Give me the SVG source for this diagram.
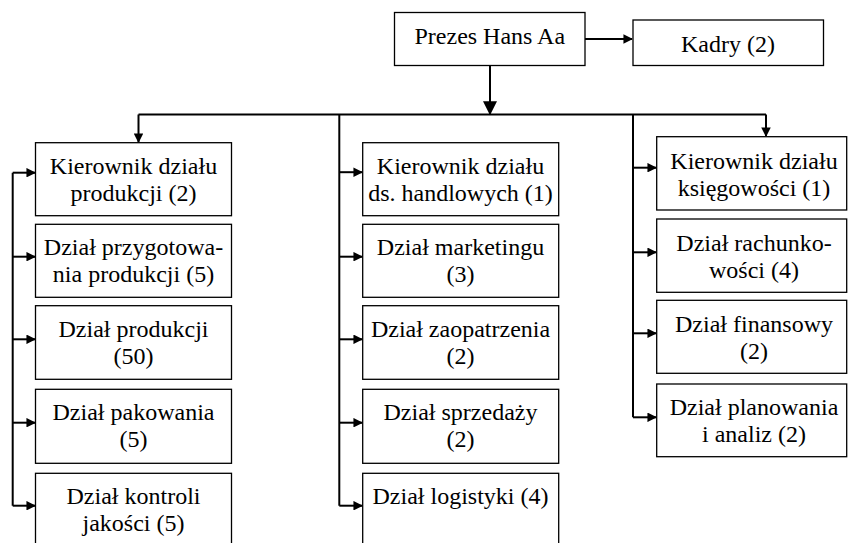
<svg xmlns="http://www.w3.org/2000/svg" width="848" height="543" viewBox="0 0 848 543">
<style>
.box{fill:#fff;stroke:#000;stroke-width:1.3}
.c{fill:none;stroke:#000;stroke-width:2}
</style>
<defs>
<marker id="a" markerUnits="userSpaceOnUse" viewBox="0 0 10 10" refX="9" refY="5" markerWidth="10" markerHeight="9.5" orient="auto">
<path d="M0,0 L10,5 L0,10 z" fill="#000"/>
</marker>
<marker id="big" markerUnits="userSpaceOnUse" viewBox="0 0 10 10" refX="9.5" refY="5" markerWidth="17" markerHeight="14" orient="auto">
<path d="M0,0 L10,5 L0,10 z" fill="#000"/>
</marker>
</defs>
<rect width="848" height="543" fill="#fff"/>
<g id="connectors">
<path class="c" d="M585 39 H632" marker-end="url(#a)"/>
<path class="c" d="M490 65.5 V114.5" marker-end="url(#big)"/>
<path class="c" d="M138.5 114.5 H766"/>
<path class="c" d="M138.5 114.5 V142" marker-end="url(#a)"/>
<path class="c" d="M766 114.5 V136" marker-end="url(#a)"/>
<path class="c" d="M12.7 172.7 V505.7"/>
<path class="c" d="M12.7 172.7 H35" marker-end="url(#a)"/>
<path class="c" d="M12.7 256.7 H35" marker-end="url(#a)"/>
<path class="c" d="M12.7 339.3 H35" marker-end="url(#a)"/>
<path class="c" d="M12.7 422.7 H35" marker-end="url(#a)"/>
<path class="c" d="M12.7 505.7 H35" marker-end="url(#a)"/>
<path class="c" d="M339.3 114.5 V505.7"/>
<path class="c" d="M339.3 172.2 H362" marker-end="url(#a)"/>
<path class="c" d="M339.3 256.7 H362" marker-end="url(#a)"/>
<path class="c" d="M339.3 339.3 H362" marker-end="url(#a)"/>
<path class="c" d="M339.3 422.7 H362" marker-end="url(#a)"/>
<path class="c" d="M339.3 505.7 H362" marker-end="url(#a)"/>
<path class="c" d="M633 114.5 V417.3"/>
<path class="c" d="M633 167.7 H656" marker-end="url(#a)"/>
<path class="c" d="M633 252.3 H656" marker-end="url(#a)"/>
<path class="c" d="M633 333.3 H656" marker-end="url(#a)"/>
<path class="c" d="M633 417.3 H656" marker-end="url(#a)"/>
</g>
<g id="prezes"><rect class="box" x="394.5" y="12.5" width="190.5" height="53"/><text font-family="Liberation Serif" font-size="24" text-anchor="middle" x="489.8" y="43.5">Prezes Hans Aa</text></g>
<g id="kadry"><rect class="box" x="633" y="20" width="190.5" height="45.5"/><text font-family="Liberation Serif" font-size="24" text-anchor="middle" x="728" y="51.5">Kadry (2)</text></g>

<g id="kier-prod"><rect class="box" x="35.5" y="142.7" width="196" height="73"/><text font-family="Liberation Serif" font-size="24" text-anchor="middle" x="133.5" y="174">Kierownik działu</text><text font-family="Liberation Serif" font-size="24" text-anchor="middle" x="133.5" y="201">produkcji (2)</text></g>
<g id="przyg"><rect class="box" x="35.5" y="224.3" width="196" height="73"/><text font-family="Liberation Serif" font-size="24" text-anchor="middle" x="133.5" y="255.3">Dział przygotowa-</text><text font-family="Liberation Serif" font-size="24" text-anchor="middle" x="133.5" y="282.3">nia produkcji (5)</text></g>
<g id="prod"><rect class="box" x="35.5" y="305.7" width="196" height="73.6"/><text font-family="Liberation Serif" font-size="24" text-anchor="middle" x="133.5" y="336.7">Dział produkcji</text><text font-family="Liberation Serif" font-size="24" text-anchor="middle" x="133.5" y="363.7">(50)</text></g>
<g id="pak"><rect class="box" x="35.5" y="389.3" width="196" height="74"/><text font-family="Liberation Serif" font-size="24" text-anchor="middle" x="133.5" y="420.3">Dział pakowania</text><text font-family="Liberation Serif" font-size="24" text-anchor="middle" x="133.5" y="447.3">(5)</text></g>
<g id="kontrola"><rect class="box" x="35.5" y="473.3" width="196" height="80"/><text font-family="Liberation Serif" font-size="24" text-anchor="middle" x="133.5" y="504">Dział kontroli</text><text font-family="Liberation Serif" font-size="24" text-anchor="middle" x="133.5" y="531">jakości (5)</text></g>

<g id="kier-handl"><rect class="box" x="362.7" y="142.7" width="196" height="73"/><text font-family="Liberation Serif" font-size="24" text-anchor="middle" x="460.5" y="174">Kierownik działu</text><text font-family="Liberation Serif" font-size="24" text-anchor="middle" x="460.5" y="201">ds. handlowych (1)</text></g>
<g id="marketing"><rect class="box" x="362.7" y="224.3" width="196" height="73"/><text font-family="Liberation Serif" font-size="24" text-anchor="middle" x="460.5" y="255.3">Dział marketingu</text><text font-family="Liberation Serif" font-size="24" text-anchor="middle" x="460.5" y="282.3">(3)</text></g>
<g id="zaopatrz"><rect class="box" x="362.7" y="305.7" width="196" height="73.6"/><text font-family="Liberation Serif" font-size="24" text-anchor="middle" x="460.5" y="336.7">Dział zaopatrzenia</text><text font-family="Liberation Serif" font-size="24" text-anchor="middle" x="460.5" y="363.7">(2)</text></g>
<g id="sprzedaz"><rect class="box" x="362.7" y="389.3" width="196" height="74"/><text font-family="Liberation Serif" font-size="24" text-anchor="middle" x="460.5" y="420.3">Dział sprzedaży</text><text font-family="Liberation Serif" font-size="24" text-anchor="middle" x="460.5" y="447.3">(2)</text></g>
<g id="logistyka"><rect class="box" x="362.7" y="473.3" width="196" height="80"/><text font-family="Liberation Serif" font-size="24" text-anchor="middle" x="460.5" y="504">Dział logistyki (4)</text></g>

<g id="kier-ksieg"><rect class="box" x="656.7" y="136.7" width="190" height="73.3"/><text font-family="Liberation Serif" font-size="24" text-anchor="middle" x="754" y="168.5">Kierownik działu</text><text font-family="Liberation Serif" font-size="24" text-anchor="middle" x="754" y="195.5">księgowości (1)</text></g>
<g id="rachunk"><rect class="box" x="656.7" y="219" width="190" height="73.3"/><text font-family="Liberation Serif" font-size="24" text-anchor="middle" x="754" y="250.5">Dział rachunko-</text><text font-family="Liberation Serif" font-size="24" text-anchor="middle" x="754" y="277.5">wości (4)</text></g>
<g id="finanse"><rect class="box" x="656.7" y="300.3" width="190" height="73"/><text font-family="Liberation Serif" font-size="24" text-anchor="middle" x="754" y="331.5">Dział finansowy</text><text font-family="Liberation Serif" font-size="24" text-anchor="middle" x="754" y="358.5">(2)</text></g>
<g id="planow"><rect class="box" x="656.7" y="384" width="190" height="72.7"/><text font-family="Liberation Serif" font-size="24" text-anchor="middle" x="754" y="415">Dział planowania</text><text font-family="Liberation Serif" font-size="24" text-anchor="middle" x="754" y="442">i analiz (2)</text></g>
</svg>
